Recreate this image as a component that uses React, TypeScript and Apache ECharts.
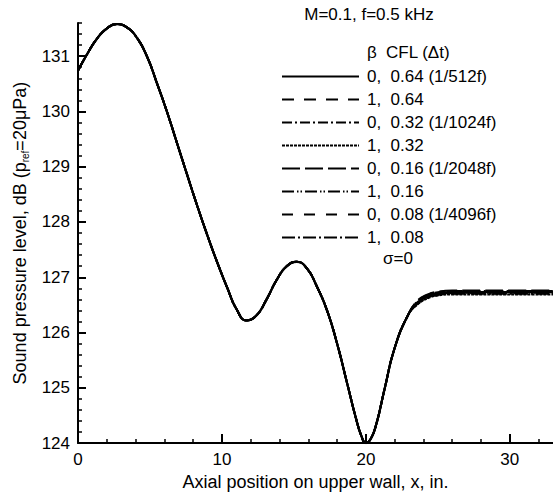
import { useEffect, useRef } from "react";
import * as echarts from "echarts";

const FONT = "'Liberation Sans', Arial, Helvetica, sans-serif";

// Axial position (in.) shared by all runs up to where they diverge
const baseX = [0, 0.6, 1.3, 2.0, 2.7, 3.4, 4.1, 4.8, 5.5, 6.2, 6.9, 7.6, 8.3, 9.0, 9.7, 10.4, 11.0, 11.7, 12.4, 13.1, 13.8, 14.5, 15.2, 15.9, 16.6, 17.3, 18.0, 18.7, 19.3, 19.7, 20.0, 20.3, 20.7, 21.3, 22.0, 22.9];
const baseSpl = [130.74, 131.02, 131.31, 131.5, 131.58, 131.52, 131.33, 130.99, 130.5, 129.98, 129.41, 128.84, 128.28, 127.75, 127.25, 126.79, 126.43, 126.22, 126.31, 126.6, 126.95, 127.2, 127.28, 127.16, 126.83, 126.4, 125.8, 125.08, 124.46, 124.12, 124.0, 124.06, 124.32, 124.98, 125.72, 126.3];

// Tail region where runs differ slightly
const tailX = [23.6, 24.3, 25.0, 26, 28, 30.5, 33];
const tail0 = [126.55, 126.66, 126.71, 126.73, 126.73, 126.73, 126.73];
const tail1 = [126.53, 126.64, 126.69, 126.71, 126.71, 126.71, 126.71];
const tail2 = [126.57, 126.68, 126.73, 126.75, 126.75, 126.75, 126.75];
const tail3 = [126.51, 126.62, 126.67, 126.69, 126.69, 126.69, 126.69];
const tail4 = [126.58, 126.69, 126.74, 126.76, 126.76, 126.76, 126.76];
const tail5 = [126.54, 126.65, 126.70, 126.72, 126.72, 126.72, 126.72];
const tail6 = [126.56, 126.67, 126.72, 126.74, 126.74, 126.74, 126.74];
const tail7 = [126.52, 126.63, 126.68, 126.70, 126.70, 126.70, 126.70];
const tails = [tail0, tail1, tail2, tail3, tail4, tail5, tail6, tail7];

const seriesNames = [
  "0,  0.64 (1/512f)",
  "1,  0.64",
  "0,  0.32 (1/1024f)",
  "1,  0.32",
  "0,  0.16 (1/2048f)",
  "1,  0.16",
  "0,  0.08 (1/4096f)",
  "1,  0.08",
];

const dashTypes: any[] = [
  "solid",
  [12, 10],
  [10, 3, 2, 3],
  [3, 1],
  [18, 5],
  [12, 3, 1.5, 2, 1.5, 3],
  [11, 11],
  [13, 3, 2, 3],
];
const widths = [2.2, 2, 2, 2, 2, 2, 1.5, 2];

const xMajor = [0, 10, 20, 30];
const yMajor = [124, 125, 126, 127, 128, 129, 130, 131];
const xMinor: number[] = [];
for (let v = 2; v < 33; v += 2) if (v % 10 !== 0) xMinor.push(v);
const yMinor: number[] = [];
for (let i = 1; i <= 38; i++) if (i % 5 !== 0) yMinor.push(124 + i * 0.2);

export default function App() {
  const ref = useRef<HTMLDivElement>(null);
  useEffect(() => {
    const chart = echarts.init(ref.current!, null, { renderer: "svg" });
    const series = seriesNames.map((name, i) => ({
      name,
      type: "line",
      xAxisIndex: 0,
      yAxisIndex: 0,
      symbol: "none",
      smooth: 0.5,
      lineStyle: { color: "#000", width: widths[i], type: dashTypes[i] },
      itemStyle: { color: "#000" },
      data: baseX.map((x, k) => [x, baseSpl[k]]).concat(tailX.map((x, k) => [x, tails[i][k]])),
      z: 10 - i,
    }));
    chart.setOption({
      animation: false,
      backgroundColor: "#fff",
      textStyle: { fontFamily: FONT, color: "#000" },
      grid: { left: 78, right: 0, top: 23, bottom: 49 },
      legend: {
        orient: "vertical",
        left: 281,
        top: 68,
        padding: 0,
        itemWidth: 77,
        itemHeight: 16,
        itemGap: 6,
        selectedMode: false,
        data: seriesNames,
        itemStyle: { opacity: 0, borderWidth: 0 },
        textStyle: { fontSize: 17, color: "#000", fontFamily: FONT, lineHeight: 16, padding: [0, 0, 0, 3] },
      },
      graphic: [
        { type: "text", x: 369, y: 14, style: { text: "M=0.1, f=0.5 kHz", font: `17px ${FONT}`, fill: "#000", align: "center", verticalAlign: "middle" } },
        { type: "text", x: 367, y: 52, style: { text: "β", font: `17px ${FONT}`, fill: "#000", verticalAlign: "middle" } },
        { type: "text", x: 386, y: 52, style: { text: "CFL (Δt)", font: `17px ${FONT}`, fill: "#000", verticalAlign: "middle" } },
        { type: "text", x: 383, y: 258, style: { text: "σ=0", font: `17px ${FONT}`, fill: "#000", verticalAlign: "middle" } },
      ],
      xAxis: [
        {
          type: "value",
          min: 0,
          max: 33,
          interval: 10,
          name: "Axial position on upper wall, x, in.",
          nameLocation: "middle",
          nameGap: 29,
          nameTextStyle: { fontSize: 18, color: "#000", fontFamily: FONT },
          axisLine: { show: true, lineStyle: { color: "#000", width: 2 } },
          axisTick: { show: true, inside: true, length: 9, customValues: xMajor, lineStyle: { color: "#000", width: 2 } },
          axisLabel: { fontSize: 17, color: "#000", margin: 8, customValues: xMajor, fontFamily: FONT },
          splitLine: { show: false },
        },
        {
          type: "value",
          min: 0,
          max: 33,
          position: "bottom",
          axisLine: { show: false },
          axisTick: { show: true, inside: true, length: 4, customValues: xMinor, lineStyle: { color: "#000", width: 1.5 } },
          axisLabel: { show: false },
          splitLine: { show: false },
        },
      ],
      yAxis: [
        {
          type: "value",
          min: 124,
          max: 131.6,
          interval: 1,
          name: "Sound pressure level, dB (p{sub|ref}=20μPa)",
          nameLocation: "middle",
          nameRotate: 90,
          nameGap: 47,
          nameTextStyle: {
            fontSize: 18,
            color: "#000",
            fontFamily: FONT,
            lineHeight: 22,
            rich: { sub: { fontSize: 10, color: "#000", fontFamily: FONT, verticalAlign: "bottom", lineHeight: 22 } },
          },
          axisLine: { show: true, lineStyle: { color: "#000", width: 2 } },
          axisTick: { show: true, inside: true, length: 8, customValues: yMajor, lineStyle: { color: "#000", width: 2 } },
          axisLabel: { fontSize: 17, color: "#000", margin: 8, customValues: yMajor, fontFamily: FONT },
          splitLine: { show: false },
        },
        {
          type: "value",
          min: 124,
          max: 131.6,
          position: "left",
          axisLine: { show: false },
          axisTick: { show: true, inside: true, length: 4, customValues: yMinor, lineStyle: { color: "#000", width: 1.5 } },
          axisLabel: { show: false },
          splitLine: { show: false },
        },
      ],
      series,
    });
    return () => chart.dispose();
  }, []);
  return <div ref={ref} style={{ position: "fixed", left: 0, top: 0, width: 553, height: 496 }} />;
}
